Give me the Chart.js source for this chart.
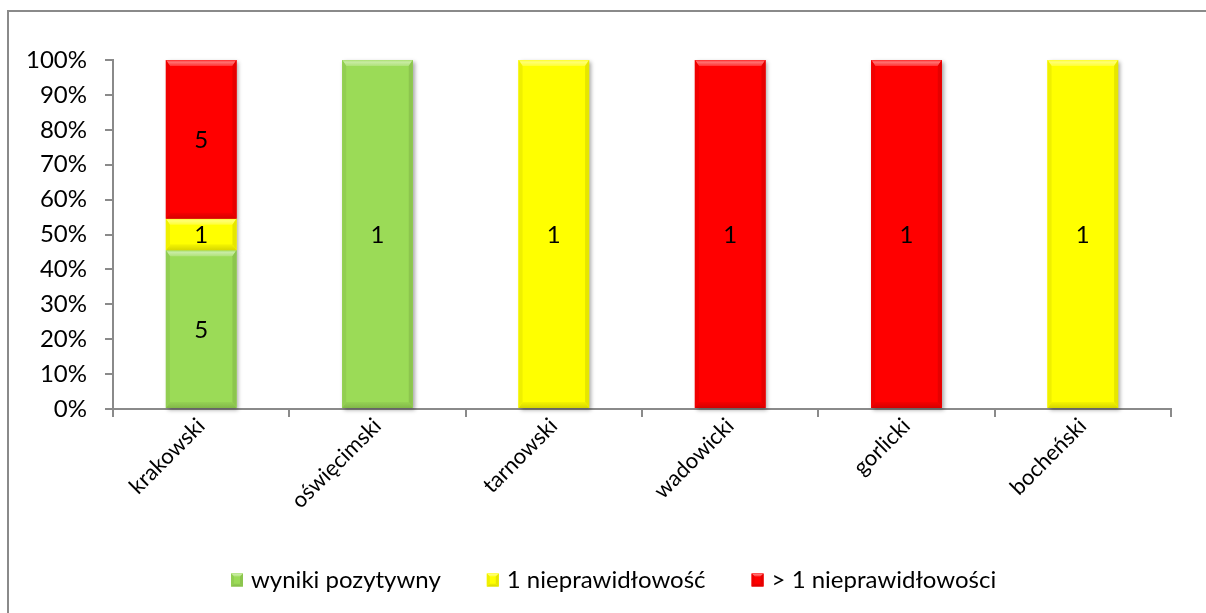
<!DOCTYPE html>
<html>
<head>
<meta charset="utf-8">
<script src="https://cdn.jsdelivr.net/npm/chart.js@4/dist/chart.umd.min.js"></script>
<style>
  html, body { margin: 0; padding: 0; background: #fff; }
  #wrap { width: 1206px; height: 613px; position: relative; }
</style>
</head>
<body>
<div id="wrap"><canvas id="chart" width="1206" height="613"></canvas></div>
<script>
// Powiaty i liczba wyników w każdej grupie
const categories = ['krakowski', 'oświęcimski', 'tarnowski', 'wadowicki', 'gorlicki', 'bocheński'];
const positiveResults = [5, 1, 0, 0, 0, 0];
const oneIrregularity = [1, 0, 1, 0, 0, 1];
const manyIrregularities = [5, 0, 0, 1, 1, 0];
const seriesNames = ['wyniki pozytywny', '1 nieprawidłowość', '> 1 nieprawidłowości'];
const seriesColors = ['#9bdb57', '#ffff00', '#ff0000'];
const percentTicks = [0, 10, 20, 30, 40, 50, 60, 70, 80, 90, 100];

const FONT = 'Lato, "Open Sans", sans-serif';
const FONT_SIZE = 24;
const AXIS_GRAY = '#8a8a8a';

// 100% stacked: each count becomes its share of the district total
const counts = [positiveResults, oneIrregularity, manyIrregularities];
const totals = categories.map((_, i) => counts.reduce((s, arr) => s + arr[i], 0));
const toShare = arr => arr.map((v, i) => totals[i] ? v / totals[i] * 100 : 0);

function shade(hex, amt) {
  const n = parseInt(hex.slice(1), 16);
  let r = (n >> 16) & 255, g = (n >> 8) & 255, b = n & 255;
  const f = c => Math.round(amt >= 0 ? c + (255 - c) * amt : c * (1 + amt));
  return `rgb(${f(r)},${f(g)},${f(b)})`;
}

function barBox(el) {
  const p = el.getProps(['x', 'y', 'base', 'width'], true);
  return {
    l: p.x - p.width / 2, r: p.x + p.width / 2,
    t: Math.min(p.y, p.base), b: Math.max(p.y, p.base)
  };
}

// Soft shadow behind every bar segment
const barShadow = {
  id: 'barShadow',
  beforeDatasetsDraw(chart) {
    const ctx = chart.ctx;
    ctx.save();
    chart.data.datasets.forEach((ds, di) => {
      chart.getDatasetMeta(di).data.forEach((el, i) => {
        if (!ds.counts[i]) return;
        const { l, r, t, b } = barBox(el);
        ctx.shadowColor = 'rgba(0,0,0,0.35)';
        ctx.shadowBlur = 4;
        ctx.shadowOffsetX = 2;
        ctx.shadowOffsetY = 2;
        ctx.fillStyle = ds.backgroundColor;
        ctx.fillRect(l, t, r - l, b - t);
      });
    });
    ctx.restore();
  }
};

// Bevelled edges on bar segments
function drawBevel(ctx, l, r, t, b, color, depth, side) {
  const d = Math.min(depth, (b - t) / 2), s = Math.min(side, (r - l) / 2);
  ctx.save();
  // top edge
  let g = ctx.createLinearGradient(0, t, 0, t + d);
  g.addColorStop(0, shade(color, 0.15));
  g.addColorStop(0.35, shade(color, 0.45));
  g.addColorStop(1, shade(color, 0.2));
  ctx.fillStyle = g;
  ctx.beginPath();
  ctx.moveTo(l, t); ctx.lineTo(r, t); ctx.lineTo(r - s, t + d); ctx.lineTo(l + s, t + d); ctx.closePath();
  ctx.fill();
  // bottom edge
  g = ctx.createLinearGradient(0, b - d, 0, b);
  g.addColorStop(0, shade(color, -0.04));
  g.addColorStop(1, shade(color, -0.16));
  ctx.fillStyle = g;
  ctx.beginPath();
  ctx.moveTo(l, b); ctx.lineTo(r, b); ctx.lineTo(r - s, b - d); ctx.lineTo(l + s, b - d); ctx.closePath();
  ctx.fill();
  // sides
  ctx.fillStyle = shade(color, -0.06);
  ctx.beginPath();
  ctx.moveTo(l, t); ctx.lineTo(l + s, t + d); ctx.lineTo(l + s, b - d); ctx.lineTo(l, b); ctx.closePath();
  ctx.fill();
  ctx.fillStyle = shade(color, -0.1);
  ctx.beginPath();
  ctx.moveTo(r, t); ctx.lineTo(r - s, t + d); ctx.lineTo(r - s, b - d); ctx.lineTo(r, b); ctx.closePath();
  ctx.fill();
  ctx.restore();
}

const barBevel = {
  id: 'barBevel',
  afterDatasetsDraw(chart) {
    const ctx = chart.ctx;
    chart.data.datasets.forEach((ds, di) => {
      chart.getDatasetMeta(di).data.forEach((el, i) => {
        if (!ds.counts[i]) return;
        const { l, r, t, b } = barBox(el);
        drawBevel(ctx, l, r, t, b, ds.backgroundColor, 6, 4);
      });
    });
    // count labels in the middle of each segment
    ctx.save();
    ctx.font = FONT_SIZE + 'px ' + FONT;
    ctx.fillStyle = '#000';
    ctx.textAlign = 'center';
    ctx.textBaseline = 'middle';
    chart.data.datasets.forEach((ds, di) => {
      chart.getDatasetMeta(di).data.forEach((el, i) => {
        if (!ds.counts[i]) return;
        const { l, r, t, b } = barBox(el);
        ctx.fillText(String(ds.counts[i]), (l + r) / 2, (t + b) / 2 + 1);
      });
    });
    ctx.restore();
  }
};

// Outer frame and legend row
const frameAndLegend = {
  id: 'frameAndLegend',
  beforeDraw(chart) {
    const ctx = chart.ctx;
    ctx.save();
    ctx.fillStyle = '#fff';
    ctx.fillRect(0, 0, chart.width, chart.height);
    ctx.strokeStyle = '#8a8a8a';
    ctx.lineWidth = 2;
    ctx.strokeRect(8, 11, chart.width + 20, chart.height + 20);
    ctx.restore();
  },
  afterDraw(chart) {
    const ctx = chart.ctx;
    ctx.save();
    ctx.font = FONT_SIZE + 'px ' + FONT;
    ctx.textBaseline = 'middle';
    let x = 231;
    const y = 580;
    const bw = 12, bh = 13;
    chart.data.datasets.forEach(ds => {
      ctx.fillStyle = ds.backgroundColor;
      ctx.fillRect(x, y - bh / 2, bw, bh);
      drawBevel(ctx, x, x + bw, y - bh / 2, y + bh / 2, ds.backgroundColor, 3, 3);
      ctx.fillStyle = '#000';
      ctx.textAlign = 'left';
      ctx.fillText(ds.label, x + bw + 8, y);
      x += bw + 8 + ctx.measureText(ds.label).width + 46;
    });
    ctx.restore();
  }
};

const datasets = counts.map((arr, k) => ({
  label: seriesNames[k],
  data: toShare(arr),
  counts: arr,
  backgroundColor: seriesColors[k],
  borderWidth: 0,
  barPercentage: 0.4,
  categoryPercentage: 1.0
}));

new Chart(document.getElementById('chart'), {
  type: 'bar',
  data: { labels: categories, datasets },
  options: {
    responsive: false,
    animation: false,
    layout: { padding: { left: 0, top: 60, right: 35, bottom: 74 } },
    plugins: { legend: { display: false }, tooltip: { enabled: false } },
    scales: {
      x: {
        stacked: true,
        offset: true,
        grid: { offset: true, drawOnChartArea: false, drawTicks: true, tickLength: 8, color: AXIS_GRAY, lineWidth: 2 },
        border: { color: AXIS_GRAY, width: 2 },
        ticks: { minRotation: 45, maxRotation: 45, color: '#000', font: { family: FONT, size: 22 }, padding: -4 },
        afterFit(s) { s.height = 130; s.paddingLeft = 0; s.paddingRight = 0; }
      },
      y: {
        stacked: true,
        min: 0,
        max: 100,
        afterBuildTicks(s) { s.ticks = percentTicks.map(v => ({ value: v })); },
        grid: { drawOnChartArea: false, drawTicks: true, tickLength: 8, color: AXIS_GRAY, lineWidth: 2 },
        border: { color: AXIS_GRAY, width: 2 },
        ticks: { color: '#000', font: { family: FONT, size: FONT_SIZE }, padding: 18, callback: v => v + '%' },
        afterFit(s) { s.width = 113; }
      }
    }
  },
  plugins: [frameAndLegend, barShadow, barBevel]
});
</script>
</body>
</html>
